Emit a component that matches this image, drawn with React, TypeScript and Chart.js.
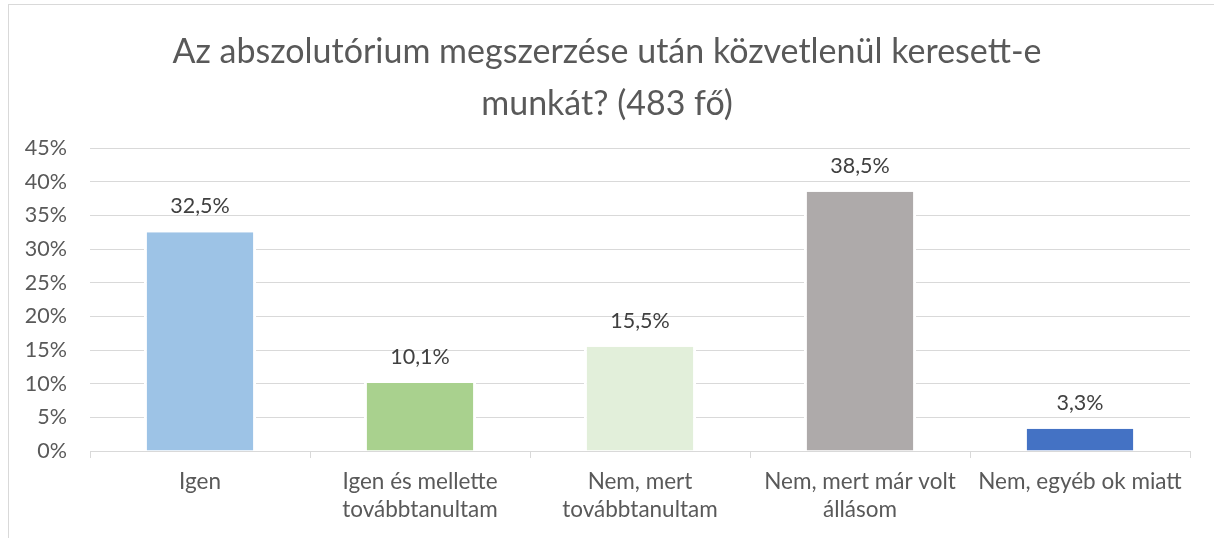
import React, { useEffect, useRef } from "react";
import { Chart, registerables } from "chart.js";

Chart.register(...registerables);

const categories: (string | string[])[] = [
  "Igen",
  ["Igen és mellette", "továbbtanultam"],
  ["Nem, mert", "továbbtanultam"],
  ["Nem, mert már volt", "állásom"],
  "Nem, egyéb ok miatt",
];
const values = [32.5, 10.1, 15.5, 38.5, 3.3];
const barColors = ["#9DC3E6", "#A9D18E", "#E2EFDA", "#AEAAAA", "#4472C4"];
const titleLines = ["Az abszolutórium megszerzése után közvetlenül keresett-e", "munkát? (483 fő)"];
const yMax = 45;
const yStep = 5;

const FONT = "Lato";

const fmt = (v: number) => v.toFixed(1).replace(".", ",") + "%";

const titlePlugin = {
  id: "customTitle",
  afterDraw(chart: any) {
    const ctx = chart.ctx;
    ctx.save();
    ctx.fillStyle = "#595959";
    ctx.font = `34px ${FONT}`;
    ctx.textAlign = "center";
    ctx.textBaseline = "alphabetic";
    const cx = chart.width / 2;
    ctx.fillText(titleLines[0], cx, 63);
    ctx.fillText(titleLines[1], cx, 115);
    ctx.restore();
  },
};

const labelPlugin = {
  id: "barLabels",
  afterDatasetsDraw(chart: any) {
    const ctx = chart.ctx;
    const meta = chart.getDatasetMeta(0);
    ctx.save();
    ctx.fillStyle = "#404040";
    ctx.font = `21.5px ${FONT}`;
    ctx.textAlign = "center";
    ctx.textBaseline = "middle";
    meta.data.forEach((bar: any, i: number) => {
      ctx.fillText(fmt(values[i]), bar.x, bar.y - 26);
    });
    ctx.restore();
  },
};

export default function App() {
  const ref = useRef<HTMLCanvasElement | null>(null);

  useEffect(() => {
    document.body.style.margin = "0";
    if (!ref.current) return;
    const chart = new Chart(ref.current, {
      type: "bar",
      data: {
        labels: categories,
        datasets: [
          {
            data: values,
            backgroundColor: barColors,
            borderColor: "#ffffff",
            borderWidth: { left: 3, right: 3, top: 0, bottom: 0 },
            borderSkipped: false,
            categoryPercentage: 1,
            barPercentage: 0.51,
          },
        ],
      },
      options: {
        animation: false,
        responsive: false,
        maintainAspectRatio: false,
        layout: { padding: { top: 148, right: 24, left: 0, bottom: 0 } },
        plugins: {
          legend: { display: false },
          title: { display: false },
          tooltip: { enabled: false },
        },
        scales: {
          x: {
            offset: true,
            grid: {
              offset: true,
              drawOnChartArea: false,
              drawTicks: true,
              tickLength: 7,
              color: "#D9D9D9",
            },
            border: { display: true, color: "#D9D9D9", width: 1 },
            ticks: {
              color: "#595959",
              font: { family: FONT, size: 22.5, lineHeight: "28px" as any },
              padding: 10,
              maxRotation: 0,
              autoSkip: false,
            },
            afterFit(scale: any) {
              scale.height = 87;
            },
          },
          y: {
            min: 0,
            max: yMax,
            ticks: {
              stepSize: yStep,
              color: "#595959",
              font: { family: FONT, size: 21.5 },
              padding: 23,
              callback: (v: any) => `${v}%`,
            },
            grid: { color: "#D9D9D9", drawTicks: false, lineWidth: 1 },
            border: { display: false },
            afterFit(scale: any) {
              scale.width = 90;
            },
          },
        },
      },
      plugins: [titlePlugin, labelPlugin],
    });
    return () => chart.destroy();
  }, []);

  return (
    <div style={{ position: "relative", width: 1214, height: 538, overflow: "hidden", background: "#fff" }}>
      <div
        style={{
          position: "absolute",
          left: 8,
          top: 4,
          width: 1300,
          height: 600,
          border: "1px solid #D9D9D9",
          boxSizing: "border-box",
        }}
      />
      <canvas ref={ref} width={1214} height={538} style={{ position: "absolute", left: 0, top: 0, display: "block" }} />
    </div>
  );
}
